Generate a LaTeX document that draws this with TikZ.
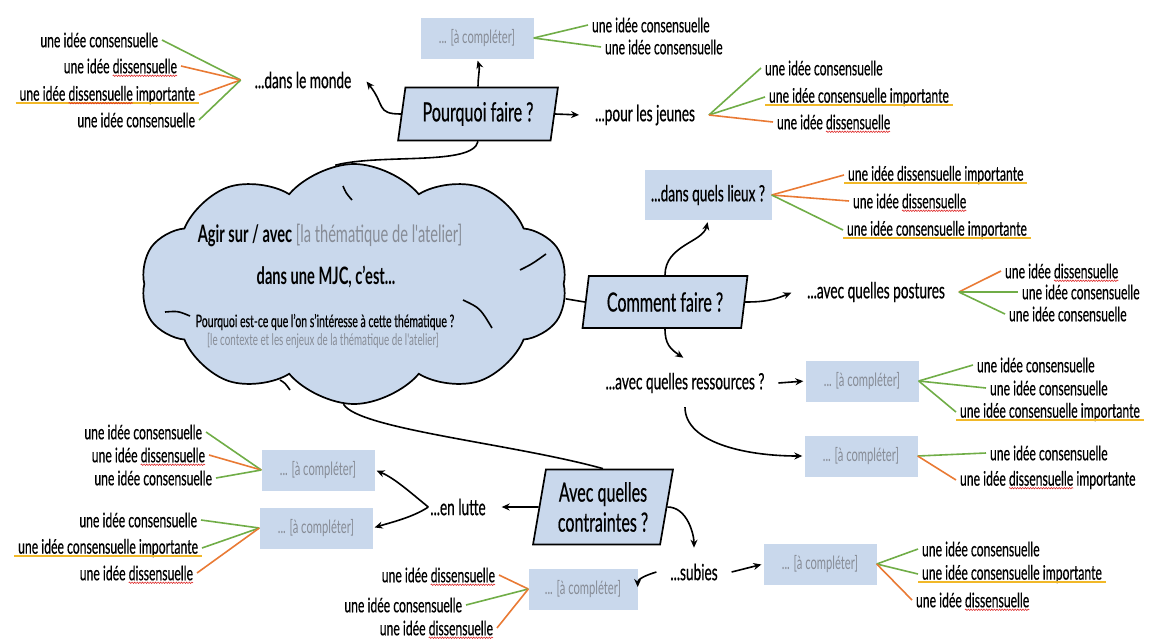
\documentclass[tikz,border=0pt]{standalone}
\usepackage{fontspec}
\setmainfont[FakeStretch=0.61,UprightFeatures={FakeBold=0.5}]{Lato}
\newfontfamily\thinfont[FakeStretch=0.61]{Lato}
\usetikzlibrary{positioning,arrows.meta,shapes.geometric,shapes.symbols,decorations.pathmorphing}
\definecolor{boxblue}{RGB}{201,216,236}
\definecolor{todogray}{RGB}{135,140,150}
\definecolor{consgreen}{RGB}{112,173,71}
\definecolor{disorange}{RGB}{233,122,52}
\definecolor{impyellow}{RGB}{241,184,40}
\definecolor{wavered}{RGB}{222,45,45}
\newlength{\disw}
\newlength{\impw}
\newcommand{\ideafont}{\fontsize{20}{22}\selectfont}
\newcommand{\wavyat}[2]{\draw [wavyline] ([xshift=-4pt-#2-\disw,yshift=-2.5pt]#1.base east) -- ([xshift=-4pt-#2,yshift=-2.5pt]#1.base east);}

\begin{document}
\settowidth{\disw}{\ideafont dissensuelle}
\settowidth{\impw}{\ideafont\ importante}
\begin{tikzpicture}[x=1pt,y=-1pt,
	idea/.style={font=\ideafont,inner sep=1pt,outer sep=3pt},
	lbl/.style={font=\fontsize{22.4}{24}\selectfont,inner sep=2pt,outer sep=12pt},
	todo/.style={rectangle,fill=boxblue,text=todogray,minimum width=113pt,minimum height=41pt,font=\thinfont\fontsize{18.4}{20}\selectfont},
	qbox/.style={trapezium,trapezium left angle=79,trapezium right angle=101,trapezium stretches=true,draw,line width=1.7pt,fill=boxblue,align=center,font=\fontsize{26.4}{30}\selectfont},
	arr/.style={-{Stealth[length=8pt,width=7pt]},line width=1.6pt,shorten >=2pt},
	conn/.style={line width=1.6pt},
	cons/.style={draw=consgreen,line width=1.6pt},
	diss/.style={draw=disorange,line width=1.6pt},
	imp/.style={draw=impyellow,line width=1.6pt},
	wavyline/.style={draw=wavered,line width=0.6pt,decorate,decoration={snake,amplitude=0.7pt,segment length=2.6pt}}
	]
	\useasboundingbox (0,0) rectangle (1157,638);

	\node [cloud,cloud puffs=10,cloud puff arc=100,cloud ignores aspect,draw,line width=1.7pt,fill=boxblue,minimum width=426pt,minimum height=240pt] (cl) at (354,284) {};
	\draw [conn] (343,186) .. controls (346,193) .. (352,200);
	\draw [conn] (520,270) .. controls (532,264) .. (546,254);
	\draw [conn] (463,300) .. controls (480,308) .. (492,328);
	\draw [conn] (165,312) .. controls (178,311) .. (190,316);
	\draw [conn] (280,380) .. controls (285,383) .. (290,390);
	\node [font=\fontsize{24}{27}\selectfont] (agir) at (330,235) {\textbf{Agir sur / avec} {\thinfont\color{todogray}[la thématique de l'atelier]}};
	\node [font=\bfseries\fontsize{24}{27}\selectfont] (mjc) at (326,277) {dans une MJC, c'est...};
	\node [font=\fontsize{17.2}{19}\selectfont] (quoi) at (325,322) {Pourquoi est-ce que l'on s'intéresse à cette thématique ?};
	\node [font=\thinfont\fontsize{16.1}{18}\selectfont,text=todogray] (ctx) at (323,341) {[le contexte et les enjeux de la thématique de l'atelier]};

	\node [qbox,minimum width=160pt,minimum height=53pt] (pq) at (478,114) {Pourquoi faire ?};
	\node [todo] (acp1) at (477,38) {... [à compléter]};
	\node [lbl] (monde) at (303,80) {...dans le monde};
	\node [lbl] (jeunes) at (645,115) {...pour les jeunes};

	\node [idea,anchor=east] (m1) at (162,40) {une idée consensuelle};
	\node [idea,anchor=east] (m2) at (181,66) {une idée dissensuelle};
	\node [idea,anchor=east] (m3) at (199,95) {une idée dissensuelle importante};
	\node [idea,anchor=east] (m4) at (199,120) {une idée consensuelle};
	\node [idea,anchor=west] (p1) at (588,25) {une idée consensuelle};
	\node [idea,anchor=west] (p2) at (601,47) {une idée consensuelle};
	\node [idea,anchor=west] (j1) at (761,68) {une idée consensuelle};
	\node [idea,anchor=west] (j2) at (765,97) {une idée consensuelle importante};
	\node [idea,anchor=west] (j3) at (773,122) {une idée dissensuelle};

	\node [qbox,minimum width=165pt,minimum height=52pt] (cf) at (665,302) {Comment faire ?};
	\node [todo,text=black,minimum width=127pt,minimum height=50pt,font=\fontsize{22.4}{24}\selectfont] (lieux) at (708,195) {...dans quels lieux ?};
	\node [lbl] (postures) at (876,292) {...avec quelles postures};
	\node [lbl] (ressources) at (685,383) {...avec quelles ressources ?};
	\node [todo] (acp2) at (862,381) {... [à compléter]};
	\node [todo] (acp3) at (861,456) {... [à compléter]};

	\node [idea,anchor=west] (l1) at (844,175) {une idée dissensuelle importante};
	\node [idea,anchor=west] (l2) at (849,201) {une idée dissensuelle};
	\node [idea,anchor=west] (l3) at (843,230) {une idée consensuelle importante};
	\node [idea,anchor=west] (q1) at (1001,271) {une idée dissensuelle};
	\node [idea,anchor=west] (q2) at (1018,292) {une idée consensuelle};
	\node [idea,anchor=west] (q3) at (1005,314) {une idée consensuelle};
	\node [idea,anchor=west] (r1) at (973,365) {une idée consensuelle};
	\node [idea,anchor=west] (r2) at (986,388) {une idée consensuelle};
	\node [idea,anchor=west] (r3) at (956,412) {une idée consensuelle importante};
	\node [idea,anchor=west] (s1) at (986,453) {une idée consensuelle};
	\node [idea,anchor=west] (s2) at (956,480) {une idée dissensuelle importante};

	\node [qbox,minimum width=140pt,minimum height=75pt] (ac) at (603,507) {Avec quelles\\contraintes ?};
	\node [lbl] (lutte) at (458,507) {...en lutte};
	\node [lbl] (subies) at (694,572) {...subies};
	\node [todo] (acp4) at (318,470) {... [à compléter]};
	\node [todo] (acp5) at (316,528) {... [à compléter]};
	\node [todo,minimum width=109pt] (acp6) at (583,589) {... [à compléter]};
	\node [todo] (acp7) at (820,564) {... [à compléter]};

	\node [idea,anchor=east] (a1) at (206,432) {une idée consensuelle};
	\node [idea,anchor=east] (a2) at (209,455) {une idée dissensuelle};
	\node [idea,anchor=east] (a3) at (216,478) {une idée consensuelle};
	\node [idea,anchor=east] (b1) at (201,520) {une idée consensuelle};
	\node [idea,anchor=east] (b2) at (202,548) {une idée consensuelle importante};
	\node [idea,anchor=east] (b3) at (197,573) {une idée dissensuelle};
	\node [idea,anchor=east] (c1) at (499,575) {une idée dissensuelle};
	\node [idea,anchor=east] (c2) at (466,605) {une idée consensuelle};
	\node [idea,anchor=east] (c3) at (497,628) {une idée dissensuelle};
	\node [idea,anchor=west] (d1) at (918,549) {une idée consensuelle};
	\node [idea,anchor=west] (d2) at (918,574) {une idée consensuelle importante};
	\node [idea,anchor=west] (d3) at (912,600) {une idée dissensuelle};

	\foreach \n in {m3,j2,l1,l3,r3,b2,d2}
		\draw [imp] ([yshift=-2.5pt]\n.base west) -- ([yshift=-2.5pt]\n.base east);
	\foreach \n in {m2,j3,l2,q1,a2,b3,c1,c3,d3}
		{\wavyat{\n}{0pt}}
	\wavyat{m3}{\impw}
	\wavyat{s2}{\impw}

	\draw [cons] (monde.west) -- (m1.east);
	\draw [diss] (monde.west) -- (m2.east);
	\draw [diss] (monde.west) -- (m3.east);
	\draw [cons] (monde.west) -- (m4.east);
	\draw [cons] (acp1.east) -- (p1.west);
	\draw [cons] (acp1.east) -- (p2.west);
	\draw [cons] (jeunes.east) -- (j1.west);
	\draw [cons] (jeunes.east) -- (j2.west);
	\draw [diss] (jeunes.east) -- (j3.west);
	\draw [diss] (lieux.east) -- (l1.west);
	\draw [diss] (lieux.east) -- (l2.west);
	\draw [cons] (lieux.east) -- (l3.west);
	\draw [diss] (postures.east) -- (q1.west);
	\draw [cons] (postures.east) -- (q2.west);
	\draw [cons] (postures.east) -- (q3.west);
	\draw [cons] (acp2.east) -- (r1.west);
	\draw [cons] (acp2.east) -- (r2.west);
	\draw [cons] (acp2.east) -- (r3.west);
	\draw [cons] (acp3.east) -- (s1.west);
	\draw [diss] (acp3.east) -- (s2.west);
	\draw [cons] (acp4.west) -- (a1.east);
	\draw [diss] (acp4.west) -- (a2.east);
	\draw [cons] (acp4.west) -- (a3.east);
	\draw [cons] (acp5.west) -- (b1.east);
	\draw [cons] (acp5.west) -- (b2.east);
	\draw [diss] (acp5.west) -- (b3.east);
	\draw [diss] (acp6.west) -- (c1.east);
	\draw [cons] (acp6.west) -- (c2.east);
	\draw [diss] (acp6.west) -- (c3.east);
	\draw [cons] (acp7.east) -- (d1.west);
	\draw [cons] (acp7.east) -- (d2.west);
	\draw [diss] (acp7.east) -- (d3.west);

	\draw [arr] (pq.west) .. controls +(-25,0) and +(20,25) .. (monde.east);
	\draw [arr] (pq.north) .. controls +(0,-10) and +(3,10) .. (acp1.south);
	\draw [arr] (pq.east) -- (jeunes.west);
	\draw [conn] (pq.south) .. controls +(-5,25) and +(45,-12) .. (cl.99);
	\draw [conn] (cl.-4) -- (cf.west);
	\draw [arr] (cf.north) .. controls +(0,-30) and +(-5,22) .. (lieux.south);
	\draw [arr] (cf.east) .. controls +(20,0) and +(-20,8) .. (postures.west);
	\draw [arr] (cf.south) .. controls +(0,15) and +(-15,-10) .. (ressources.north);
	\draw [arr] (ressources.east) -- (acp2.west);
	\draw [arr] (ressources.south) .. controls +(0,35) and +(-60,0) .. (acp3.west);
	\draw [conn] (cl.-95) .. controls +(15,25) and +(-90,-25) .. (ac.north);
	\draw [arr] (ac.west) -- (lutte.east);
	\draw [arr] ([xshift=12pt]lutte.west) .. controls +(-15,-12) and +(20,8) .. (acp4.east);
	\draw [arr] ([xshift=12pt]lutte.west) .. controls +(-15,10) and +(20,-6) .. (acp5.east);
	\draw [arr] (ac.east) .. controls +(20,0) and +(0,-15) .. (subies.north);
	\draw [arr] (subies.west) .. controls +(-10,3) and +(0,-10) .. (acp6.east);
	\draw [arr] (subies.east) -- (acp7.west);

\end{tikzpicture}
\end{document}
